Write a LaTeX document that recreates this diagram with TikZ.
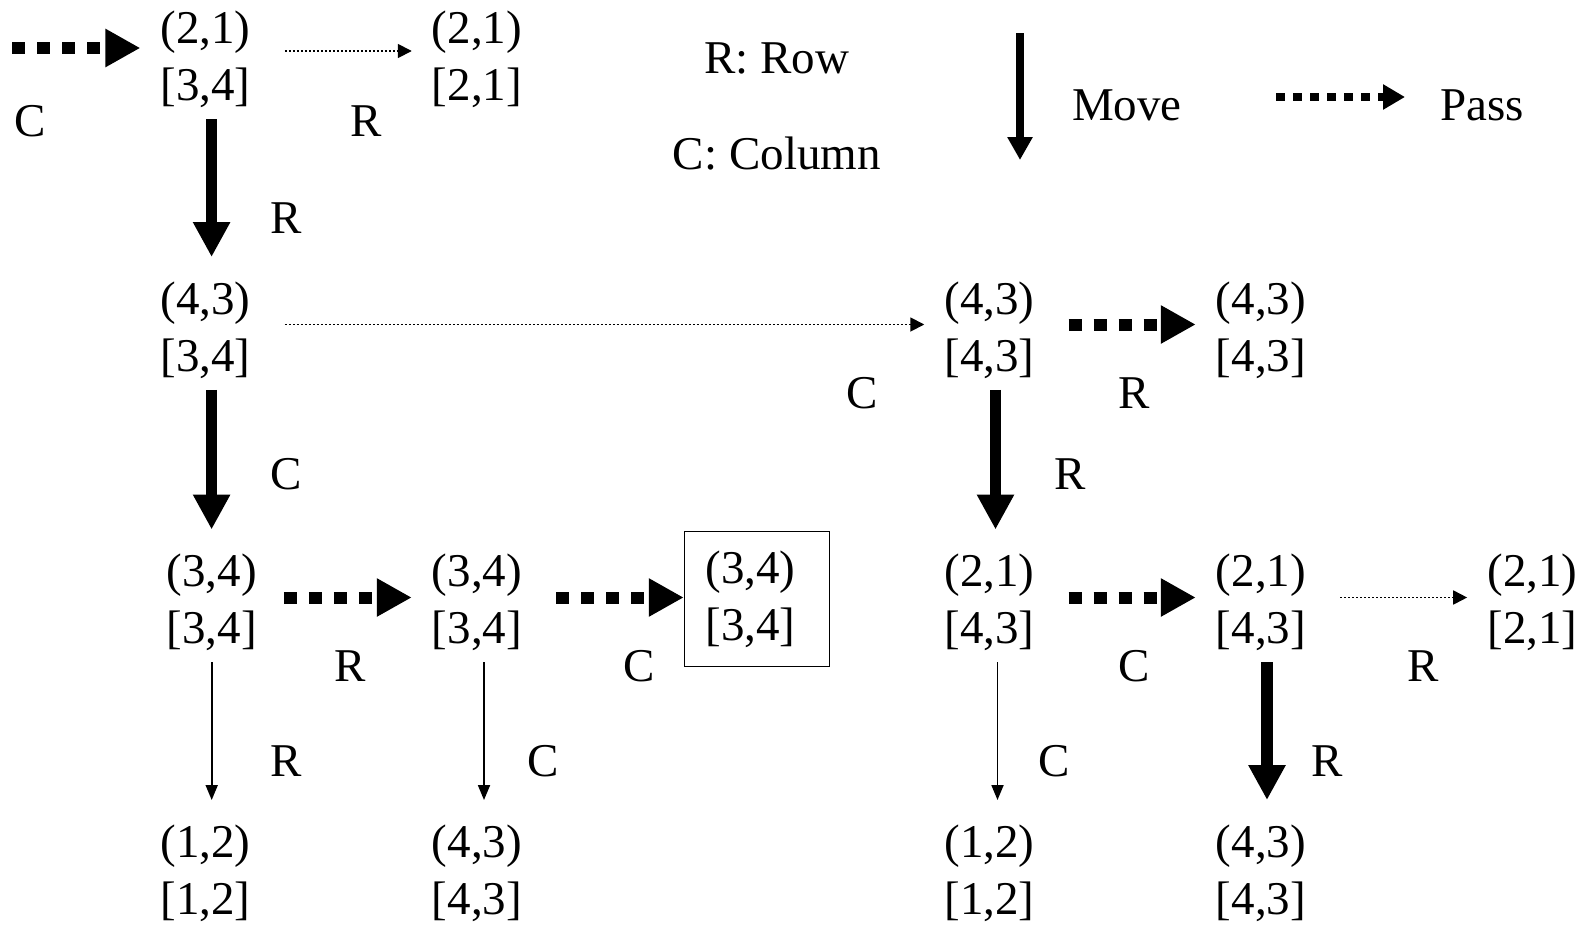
\documentclass[tikz,border=0pt]{standalone}
\usepackage{fontspec}
\setmainfont{Liberation Serif}
\usetikzlibrary{arrows.meta}

\begin{document}
\begin{tikzpicture}[x=1pt,y=-1pt,font=\fontsize{47}{56.7}\selectfont]
    \tikzstyle{every node}=[align=center, inner sep=0pt]
    \tikzstyle{move}=[line width=11.5pt, -{Triangle[length=35pt,width=35pt]}, shorten <=11.5pt, shorten >=24.5pt]
    \tikzstyle{thinmove}=[line width=1.8pt, -{Triangle[length=15pt,width=12pt]}, shorten <=11.5pt, shorten >=24.5pt]
    \tikzstyle{pass}=[line width=12pt, dash pattern=on 13pt off 12pt, -{Triangle[length=35pt,width=36pt]}, shorten <=34pt, shorten >=20pt]
    \tikzstyle{thinpass}=[line width=1.8pt, dash pattern=on 2pt off 2pt, -{Triangle[length=14pt,width=14pt]}, shorten <=34pt, shorten >=20pt]
    \tikzstyle{keymove}=[line width=8pt, -{Triangle[length=23pt,width=24pt]}]
    \tikzstyle{keypass}=[line width=8.5pt, dash pattern=on 9pt off 8pt, -{Triangle[length=22pt,width=24pt]}]
    \tikzstyle{goal}=[draw, line width=1.5pt, text width=103pt, align=left, inner xsep=21pt, inner ysep=19pt]

    \useasboundingbox (0,0) rectangle (1588,926);

    % positions (row, column)
    \node (r1c1) at (205.6, 59.5) {(2,1)\\{[3,4]}};
    \node (r1c2) at (477, 59.5) {(2,1)\\{[2,1]}};
    \node (r2c1) at (205.6, 330) {(4,3)\\{[3,4]}};
    \node (r2c4) at (989.5, 330) {(4,3)\\{[4,3]}};
    \node (r2c5) at (1261, 330) {(4,3)\\{[4,3]}};
    \node (r3c1) at (211.7, 602.5) {(3,4)\\{[3,4]}};
    \node (r3c2) at (477, 602.5) {(3,4)\\{[3,4]}};
    \node[goal] (r3c3) at (757, 599) {(3,4)\\{[3,4]}};
    \node (r3c4) at (989.5, 602.5) {(2,1)\\{[4,3]}};
    \node (r3c5) at (1261, 602.5) {(2,1)\\{[4,3]}};
    \node (r3c6) at (1532.4, 602.5) {(2,1)\\{[2,1]}};
    \node (r4c1) at (205.6, 873) {(1,2)\\{[1,2]}};
    \node (r4c2) at (477, 873) {(4,3)\\{[4,3]}};
    \node (r4c4) at (989.5, 873) {(1,2)\\{[1,2]}};
    \node (r4c5) at (1261, 873) {(4,3)\\{[4,3]}};

    \coordinate (start) at (12, 48);

    % moves and passes
    \draw[pass, shorten <=0pt] (start) -- ([yshift=11.5pt]r1c1.west);
    \draw[thinpass] ([yshift=8.5pt]r1c1.east) -- ([yshift=8.5pt]r1c2.west);
    \draw[move] ([xshift=6pt]r1c1.south) -- ([xshift=6pt]r1c1.south |- r2c1.north);
    \draw[thinpass] ([yshift=5.5pt]r2c1.east) -- ([yshift=5.5pt]r2c4.west);
    \draw[pass] ([yshift=5.5pt]r2c4.east) -- ([yshift=5.5pt]r2c5.west);
    \draw[move] ([xshift=6pt]r2c1.south) -- ([xshift=6pt]r2c1.south |- r3c1.north);
    \draw[move] ([xshift=6pt]r2c4.south) -- ([xshift=6pt]r2c4.south |- r3c4.north);
    \draw[pass, shorten <=27pt] ([yshift=5pt]r3c1.east) -- ([yshift=5pt]r3c2.west);
    \draw[pass, shorten >=0pt] ([yshift=5pt]r3c2.east) -- ([yshift=1.5pt]r3c3.west);
    \draw[pass] ([yshift=5pt]r3c4.east) -- ([yshift=5pt]r3c5.west);
    \draw[thinpass] ([yshift=5pt]r3c5.east) -- ([yshift=5pt]r3c6.west);
    \draw[thinmove] (r3c1.south) -- (r3c1.south |- r4c1.north);
    \draw[thinmove] ([xshift=7pt]r3c2.south) -- ([xshift=7pt]r3c2.south |- r4c2.north);
    \draw[thinmove] ([xshift=8pt]r3c4.south) -- ([xshift=8pt]r3c4.south |- r4c4.north);
    \draw[move] ([xshift=6pt]r3c5.south) -- ([xshift=6pt]r3c5.south |- r4c5.north);

    % labels
    \node (l1) at (30.4, 121.5) {C};
    \node (l2) at (366.6, 121.5) {R};
    \node (l3) at (286.6, 217.8) {R};
    \node (l4) at (286.6, 474) {C};
    \node (l5) at (861.9, 393) {C};
    \node (l6) at (1134.3, 393) {R};
    \node (l7) at (1070.5, 474) {R};
    \node (l8) at (350.4, 666.4) {R};
    \node (l9) at (639, 666.4) {C};
    \node (l10) at (1134.3, 666.4) {C};
    \node (l11) at (1423, 666.4) {R};
    \node (l12) at (286.6, 761.6) {R};
    \node (l13) at (542.9, 761.6) {C};
    \node (l14) at (1054.3, 761.6) {C};
    \node (l15) at (1326.8, 761.6) {R};

    % key
    \node (rowkey) at (776.8, 58.7) {R: Row};
    \node (colkey) at (776.8, 154) {C: Column};
    \coordinate (movetop) at (1020, 33);
    \coordinate (movebot) at (1020, 160);
    \draw[keymove] (movetop) -- (movebot);
    \node (movekey) at (1127, 105.3) {Move};
    \coordinate (passleft) at (1276, 97);
    \coordinate (passright) at (1405, 97);
    \draw[keypass] (passleft) -- (passright);
    \node (passkey) at (1482, 105.3) {Pass};
\end{tikzpicture}
\end{document}
